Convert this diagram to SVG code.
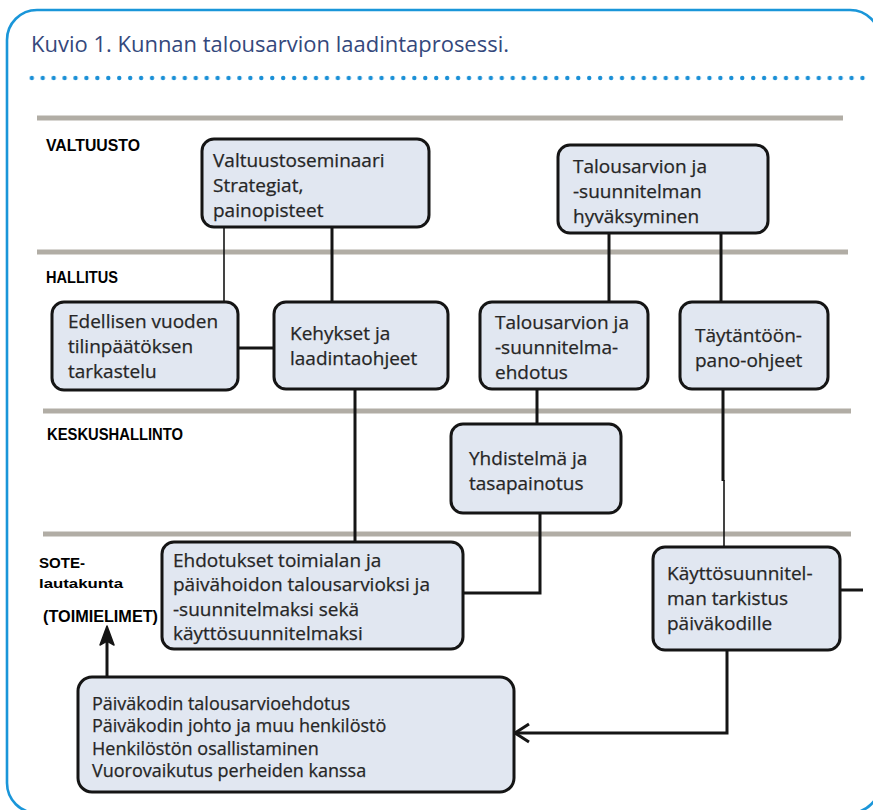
<svg xmlns="http://www.w3.org/2000/svg" width="873" height="810" viewBox="0 0 873 810">
  <defs>
    <style>
      .frame { fill: #ffffff; stroke: #1a96d9; stroke-width: 2.6; }
      .title { font-family: "Open Sans", "Liberation Sans", sans-serif; font-size: 21px; fill: #34487c; }
      .dot { fill: #1a8fd6; }
      .lane { stroke: #b1ada5; stroke-width: 5; }
      .lbl { font-family: "Liberation Sans", Arial, sans-serif; font-weight: bold; fill: #000; }
      .box { fill: #e1e7f1; stroke: #151515; stroke-width: 3; }
      .txt { font-family: "Open Sans", "Liberation Sans", sans-serif; font-size: 19px; fill: #262626; stroke: #262626; stroke-width: 0.25; }
      .txt-s { font-size: 18px; }
      .ln { fill: none; stroke: #151515; stroke-width: 3; }
      .ln-thin { fill: none; stroke: #151515; stroke-width: 1.6; }
    </style>
    <pattern id="dots" x="29.6" y="0" width="10.93" height="810" patternUnits="userSpaceOnUse">
      <circle class="dot" cx="2.2" cy="78" r="2.2"/>
    </pattern>
  </defs>

  <!-- outer frame and heading -->
  <rect class="frame" x="7" y="10" width="873" height="803" rx="30"/>
  <text class="title" x="31" y="52" textLength="478" lengthAdjust="spacingAndGlyphs">Kuvio 1. Kunnan talousarvion laadintaprosessi.</text>
  <rect x="29" y="74" width="838" height="8" fill="url(#dots)"/>

  <!-- lane separators -->
  <g id="lanes">
    <line class="lane" x1="37" y1="118" x2="843" y2="118"/>
    <line class="lane" x1="37" y1="252" x2="848" y2="252"/>
    <line class="lane" x1="43" y1="411" x2="851" y2="411"/>
    <line class="lane" x1="43" y1="534" x2="851" y2="534"/>
  </g>

  <!-- lane labels -->
  <g id="lane-labels">
    <text class="lbl" x="46" y="151" font-size="17" textLength="94" lengthAdjust="spacingAndGlyphs">VALTUUSTO</text>
    <text class="lbl" x="46" y="283" font-size="17" textLength="72" lengthAdjust="spacingAndGlyphs">HALLITUS</text>
    <text class="lbl" x="47" y="440" font-size="16" textLength="136" lengthAdjust="spacingAndGlyphs">KESKUSHALLINTO</text>
    <text class="lbl" x="39" y="568" font-size="15" textLength="46" lengthAdjust="spacingAndGlyphs">SOTE-</text>
    <text class="lbl" x="39" y="588" font-size="13" textLength="84" lengthAdjust="spacingAndGlyphs">lautakunta</text>
    <text class="lbl" x="43" y="622" font-size="16" textLength="115" lengthAdjust="spacingAndGlyphs">(TOIMIELIMET)</text>
  </g>

  <!-- connectors -->
  <g id="connectors">
    <line class="ln-thin" x1="224" y1="227" x2="224" y2="302"/>
    <line class="ln" x1="332" y1="227" x2="332" y2="302"/>
    <line class="ln" x1="238" y1="348" x2="274" y2="348"/>
    <line class="ln" x1="355" y1="389" x2="355" y2="542"/>
    <line class="ln" x1="609" y1="233" x2="609" y2="302"/>
    <line class="ln" x1="721" y1="233" x2="721" y2="302"/>
    <line class="ln" x1="537" y1="389" x2="537" y2="424"/>
    <line class="ln" x1="723" y1="389" x2="723" y2="481"/>
    <line class="ln-thin" x1="724" y1="480" x2="724" y2="547" stroke-width="2"/>
    <polyline class="ln" points="540,513 540,593 463,593"/>
    <line class="ln" x1="840" y1="590" x2="863" y2="590"/>
    <polyline class="ln" points="727,650 727,733 515,733"/>
    <polyline class="ln" points="529,724 515,733 529,742"/>
    <line class="ln" x1="107" y1="677" x2="107" y2="636" stroke-width="3.5"/>
    <polygon points="107,626 114,645 107,641 100,645" fill="#151515" stroke="#151515" stroke-width="1.5" stroke-linejoin="round"/>
  </g>

  <!-- nodes -->
  <g id="valtuustoseminaari">
    <rect class="box" x="202" y="139" width="227" height="88" rx="12"/>
    <text class="txt" x="213" y="167">Valtuustoseminaari</text>
    <text class="txt" x="213" y="192">Strategiat,</text>
    <text class="txt" x="213" y="217">painopisteet</text>
  </g>

  <g id="hyvaksyminen">
    <rect class="box" x="558" y="145" width="210" height="88" rx="12"/>
    <text class="txt" x="573" y="173">Talousarvion ja</text>
    <text class="txt" x="573" y="198">-suunnitelman</text>
    <text class="txt" x="573" y="223">hyväksyminen</text>
  </g>

  <g id="tilinpaatos">
    <rect class="box" x="52" y="302" width="186" height="88" rx="12"/>
    <text class="txt" x="68" y="328">Edellisen vuoden</text>
    <text class="txt" x="68" y="353">tilinpäätöksen</text>
    <text class="txt" x="68" y="378">tarkastelu</text>
  </g>

  <g id="kehykset">
    <rect class="box" x="274" y="302" width="174" height="87" rx="12"/>
    <text class="txt" x="290" y="340">Kehykset ja</text>
    <text class="txt" x="290" y="365">laadintaohjeet</text>
  </g>

  <g id="ehdotus">
    <rect class="box" x="480" y="302" width="168" height="87" rx="12"/>
    <text class="txt" x="495" y="329">Talousarvion ja</text>
    <text class="txt" x="495" y="354">-suunnitelma-</text>
    <text class="txt" x="495" y="379">ehdotus</text>
  </g>

  <g id="taytantoonpano">
    <rect class="box" x="680" y="302" width="148" height="87" rx="12"/>
    <text class="txt" x="695" y="342">Täytäntöön-</text>
    <text class="txt" x="695" y="367">pano-ohjeet</text>
  </g>

  <g id="yhdistelma">
    <rect class="box" x="451" y="424" width="170" height="89" rx="12"/>
    <text class="txt" x="469" y="465">Yhdistelmä ja</text>
    <text class="txt" x="469" y="490">tasapainotus</text>
  </g>

  <g id="ehdotukset">
    <rect class="box" x="162" y="542" width="301" height="107" rx="12"/>
    <text class="txt" x="173" y="567">Ehdotukset toimialan ja</text>
    <text class="txt" x="173" y="591">päivähoidon talousarvioksi ja</text>
    <text class="txt" x="173" y="616">-suunnitelmaksi sekä</text>
    <text class="txt" x="173" y="640">käyttösuunnitelmaksi</text>
  </g>

  <g id="kayttosuunnitelma">
    <rect class="box" x="653" y="547" width="187" height="103" rx="12"/>
    <text class="txt" x="667" y="580">Käyttösuunnitel-</text>
    <text class="txt" x="667" y="605">man tarkistus</text>
    <text class="txt" x="667" y="630">päiväkodille</text>
  </g>

  <g id="paivakoti">
    <rect class="box" x="78" y="677" width="436" height="115" rx="14"/>
    <text class="txt txt-s" x="92" y="710">Päiväkodin talousarvioehdotus</text>
    <text class="txt txt-s" x="92" y="732">Päiväkodin johto ja muu henkilöstö</text>
    <text class="txt txt-s" x="92" y="755">Henkilöstön osallistaminen</text>
    <text class="txt txt-s" x="92" y="777">Vuorovaikutus perheiden kanssa</text>
  </g>
</svg>
